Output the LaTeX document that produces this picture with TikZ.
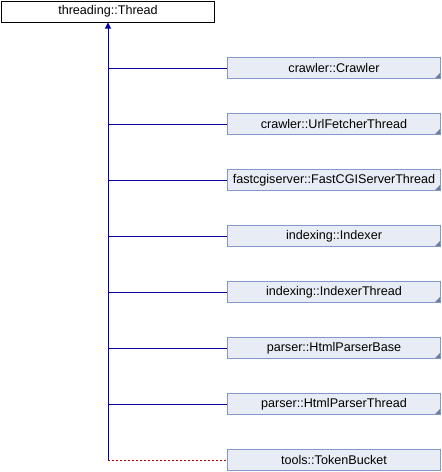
\documentclass[tikz,border=0pt]{standalone}
\usepackage{fontspec}
\setmainfont{Liberation Sans}
\usetikzlibrary{arrows.meta}
\definecolor{boxfill}{RGB}{232,236,245}
\definecolor{boxline}{RGB}{132,152,204}
\definecolor{edgeblue}{RGB}{0,0,165}
\definecolor{edgered}{RGB}{170,0,0}
\tikzset{
	classbox/.style={draw=black, fill=white, line width=1pt, minimum width=213pt, minimum height=21pt, inner sep=0pt, font=\fontsize{12.6}{14}\selectfont},
	derived/.style={classbox, draw=boxline, fill=boxfill},
	more/.style={path picture={\fill[boxline!80!black] (path picture bounding box.south east) -- ++(-6pt,0) -- ++(6pt,6pt) -- cycle;}},
	inherit/.style={draw=edgeblue, line width=1pt},
	privinherit/.style={draw=edgered, line width=1pt, dash pattern=on 2pt off 2pt},
}

\begin{document}
\begin{tikzpicture}[x=1pt, y=-1pt, >={Triangle[width=6pt,length=6pt]}]
		\useasboundingbox (0,0) rectangle (442,472);
		\node[classbox] (thread) at (108,11.5) {threading::Thread};
		\node[derived, more] (crawler) at (334,68) {crawler::Crawler};
		\node[derived, more] (fetcher) at (334,124) {crawler::UrlFetcherThread};
		\node[derived, more] (fastcgi) at (334,180) {fastcgiserver::FastCGIServerThread};
		\node[derived, more] (indexer) at (334,236) {indexing::Indexer};
		\node[derived, more] (idxthread) at (334,292) {indexing::IndexerThread};
		\node[derived, more] (parserbase) at (334,348) {parser::HtmlParserBase};
		\node[derived, more] (parserthread) at (334,404) {parser::HtmlParserThread};
		\node[derived] (bucket) at (334,460) {tools::TokenBucket};
		\draw [inherit, ->] (thread.south |- bucket.west) -- (thread.south);
		\draw [inherit] (thread.south |- crawler.west) -- (crawler.west);
		\draw [inherit] (thread.south |- fetcher.west) -- (fetcher.west);
		\draw [inherit] (thread.south |- fastcgi.west) -- (fastcgi.west);
		\draw [inherit] (thread.south |- indexer.west) -- (indexer.west);
		\draw [inherit] (thread.south |- idxthread.west) -- (idxthread.west);
		\draw [inherit] (thread.south |- parserbase.west) -- (parserbase.west);
		\draw [inherit] (thread.south |- parserthread.west) -- (parserthread.west);
		\draw [privinherit] (thread.south |- bucket.west) -- (bucket.west);
	\end{tikzpicture}
\end{document}
